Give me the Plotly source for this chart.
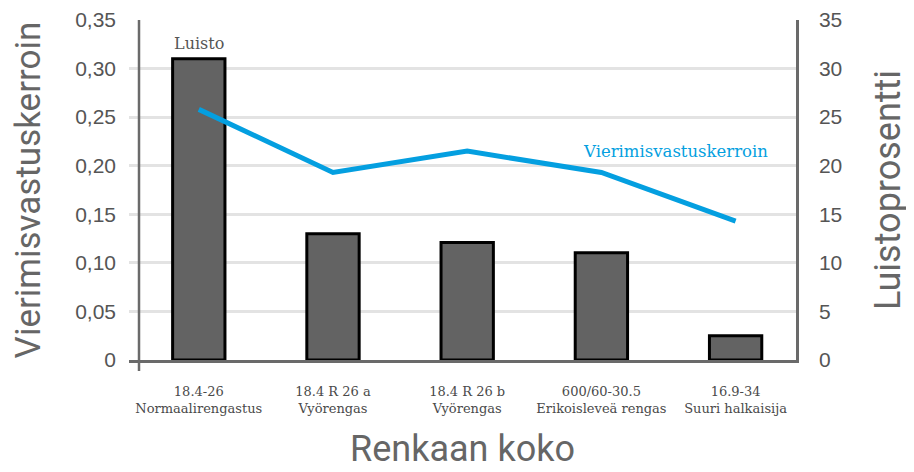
import plotly.graph_objects as go

categories = ["18.4-26<br>Normaalirengastus", "18.4 R 26 a<br>Vyörengas", "18.4 R 26 b<br>Vyörengas",
              "600/60-30.5<br>Erikoisleveä rengas", "16.9-34<br>Suuri halkaisija"]
luisto = [31.0, 13.0, 12.1, 11.05, 2.5]
vierimis = [0.258, 0.193, 0.215, 0.193, 0.143]
left_ticks = [0, 0.05, 0.10, 0.15, 0.20, 0.25, 0.30, 0.35]
left_ticktext = ["0", "0,05", "0,10", "0,15", "0,20", "0,25", "0,30", "0,35"]
right_ticks = [0, 5, 10, 15, 20, 25, 30, 35]

xi = list(range(len(categories)))
COND = "Roboto, sans-serif"
SANS = "Liberation Sans, Arial, sans-serif"
SERIF = "DejaVu Serif, serif"

fig = go.Figure()
fig.add_trace(go.Bar(x=xi, y=luisto, name="Luisto", yaxis="y", width=0.39,
                     marker=dict(color="#636363", line=dict(color="#000000", width=3))))
fig.add_trace(go.Scatter(x=xi, y=vierimis, name="Vierimisvastuskerroin", yaxis="y2",
                         mode="lines", line=dict(color="#049fe0", width=5)))

# page body has an 8px margin; the figure is sized to fit the window after that offset
fig.update_layout(
    width=906, height=464,
    margin=dict(l=121, r=118, t=12, b=112),
    plot_bgcolor="white", paper_bgcolor="white",
    showlegend=False,
    xaxis=dict(range=[-0.52, 4.45], tickvals=xi, ticktext=categories, automargin=False,
               showgrid=False, showline=True, linecolor="#6a6a6a", linewidth=2.5,
               ticks="", tickfont=dict(family=SERIF, size=13, color="#4a4a4a"),
               ticklabelstandoff=18,
               title=dict(text="Renkaan koko", font=dict(family=COND, size=36, color="#666666"), standoff=21)),
    yaxis=dict(side="right", range=[0, 35], tickvals=right_ticks, automargin=False,
               ticklabeloverflow="allow",
               showgrid=True, gridcolor="#e3e3e3", gridwidth=3,
               showline=True, linecolor="#6a6a6a", linewidth=2.5, ticks="",
               zeroline=False,
               tickfont=dict(family=SANS, size=21, color="#555555"),
               ticklabelstandoff=16,
               title=dict(text="Luistoprosentti", font=dict(family=COND, size=36, color="#666666"), standoff=34)),
    yaxis2=dict(side="left", overlaying="y", range=[0, 0.35], tickvals=left_ticks, ticktext=left_ticktext,
                automargin=False, ticklabeloverflow="allow",
                showgrid=False, showline=False, ticks="", zeroline=False,
                tickfont=dict(family=SANS, size=21, color="#555555"),
                ticklabelstandoff=12,
                title=dict(text="Vierimisvastuskerroin", font=dict(family=COND, size=35, color="#666666"), standoff=30)),
    shapes=[dict(type="line", xref="paper", yref="paper", x0=0.015, x1=0.015, y0=-0.032, y1=1,
                 line=dict(color="#6a6a6a", width=2.5))],
    annotations=[
        dict(text="Luisto", x=0, xref="x", y=0.93, yref="paper", yanchor="middle", showarrow=False,
             font=dict(family=SERIF, size=16, color="#555555")),
        dict(text="Vierimisvastuskerroin", x=3.55, xref="x", y=0.614, yref="paper", yanchor="middle",
             showarrow=False, font=dict(family=SERIF, size=16.5, color="#049fe0")),
    ],
)

fig.write_html("out.html")
